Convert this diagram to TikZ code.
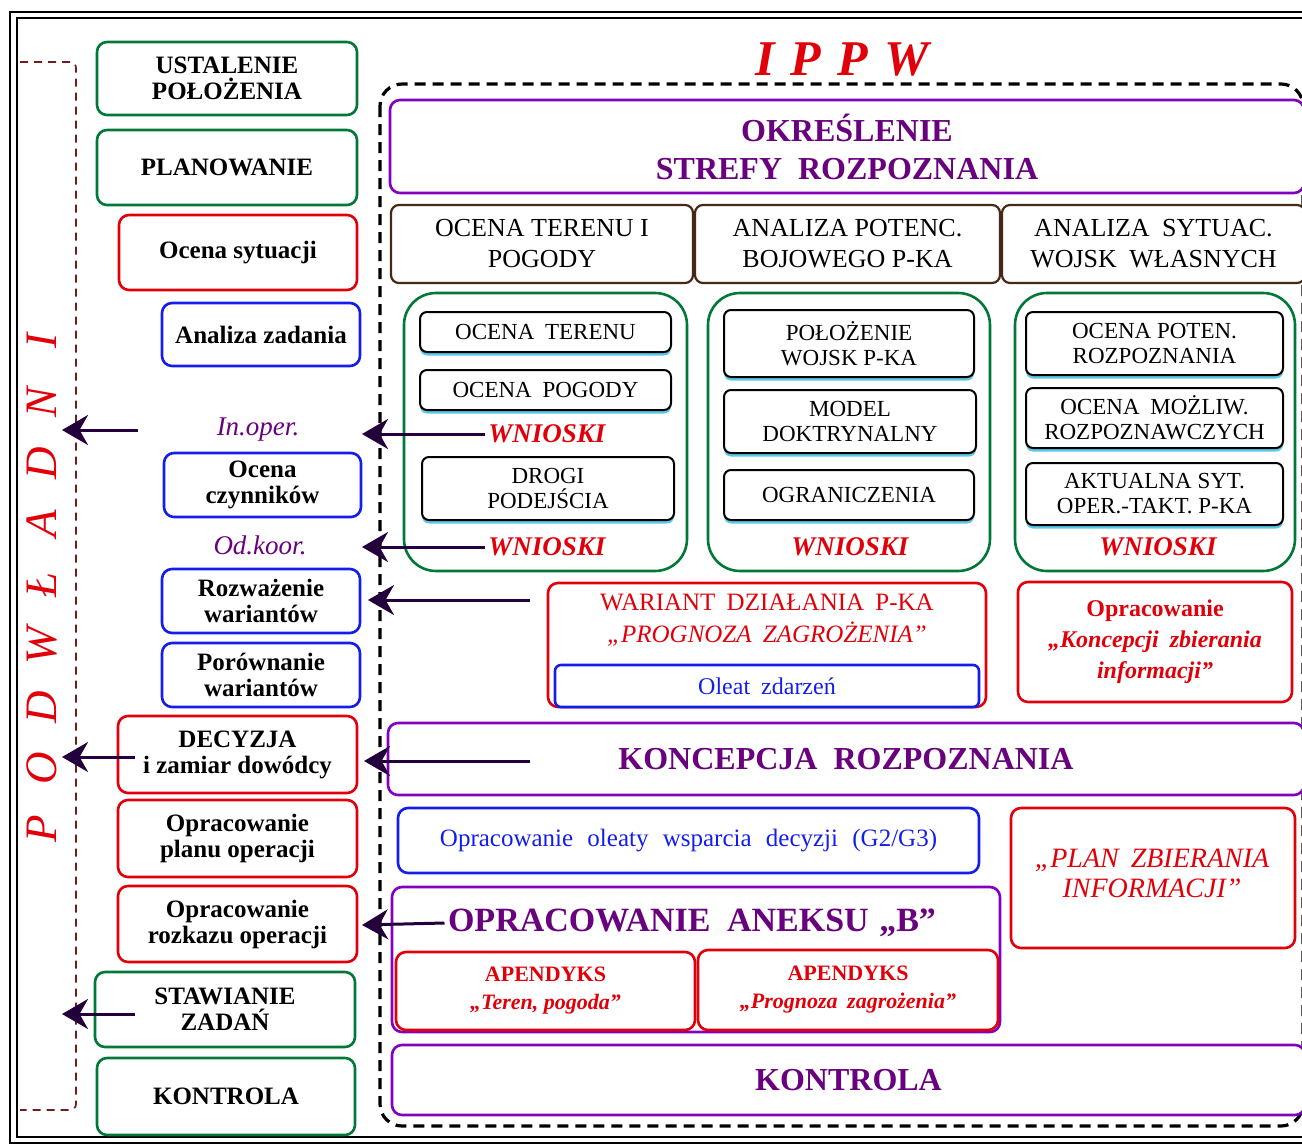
\documentclass[tikz,border=0pt]{standalone}
\usepackage{fontspec}
\setmainfont{Liberation Serif}
\usetikzlibrary{arrows.meta,shadows}
\definecolor{cgreen}{RGB}{0,120,55}
\definecolor{cred}{RGB}{225,0,10}
\definecolor{cblue}{RGB}{20,30,235}
\definecolor{cpurp}{RGB}{130,0,190}
\definecolor{ctxtp}{RGB}{105,0,125}
\definecolor{cbrown}{RGB}{70,40,20}
\definecolor{carrow}{RGB}{35,0,60}
\definecolor{cdash}{RGB}{110,30,30}
\definecolor{ccyan}{RGB}{90,200,230}
\begin{document}
\begin{tikzpicture}[x=1pt,y=-1pt,
  box/.style={draw, line width=2.6pt, rounded corners=10pt, fill=white, inner sep=0pt, align=center},
  gbox/.style={box, draw=cgreen},
  rbox/.style={box, draw=cred},
  bbox/.style={box, draw=cblue},
  pbox/.style={box, draw=cpurp, text=ctxtp},
  hbox/.style={box, draw=cbrown, line width=2.2pt, rounded corners=8pt},
  colbox/.style={box, draw=cgreen, rounded corners=32pt},
  ibox/.style={box, draw=black, line width=2pt, rounded corners=7pt,
    drop shadow={shadow xshift=0pt, shadow yshift=-3.5pt, fill=ccyan, opacity=1}},
  lft/.style={font=\fontsize{25}{26}\selectfont\bfseries},
  hdr/.style={font=\fontsize{26}{31}\selectfont},
  inn/.style={font=\fontsize{23}{25}\selectfont},
  big/.style={font=\fontsize{32}{38}\selectfont\bfseries},
  wn/.style={text=cred, font=\fontsize{27}{30}\selectfont\bfseries\itshape},
  note/.style={text=ctxtp, font=\fontsize{27}{30}\selectfont\itshape},
  arr/.style={draw=carrow, line width=3pt, -{Stealth[length=26pt,width=30pt]}}
]
\useasboundingbox (0,0) rectangle (1302,1146);
% outer frame
\draw[line width=2.4pt] (1340,12) -- (10,12) -- (10,1143) -- (1340,1143);
\draw[line width=1.4pt] (1340,18) -- (17,18) -- (17,1137) -- (1340,1137);
% PODWLADNI dashed frame
\draw[cdash, line width=1.7pt, dash pattern=on 8pt off 6pt, rounded corners=6pt] (20,62) -- (76,62) -- (76,1110) -- (20,1110);
\node[rotate=90, text=cred, font=\fontsize{45}{45}\selectfont\itshape, inner sep=0pt] (podw) at (42,585)
  {\makebox[61pt]{P}\makebox[61pt]{O}\makebox[61pt]{D}\makebox[61pt]{W}\makebox[61pt]{Ł}\makebox[61pt]{A}\makebox[61pt]{D}\makebox[61pt]{N}\makebox[61pt]{I}};
% big dashed frame
\draw[line width=3.2pt, dash pattern=on 11pt off 7pt, rounded corners=22pt] (380,84) rectangle (1303,1126);
\node[text=cred, font=\fontsize{50}{50}\selectfont\bfseries\itshape] (ippw) at (842,60) {I\hspace{16pt}P\hspace{16pt}P\hspace{16pt}W};

% left column
\node[gbox, lft, minimum width=260pt, minimum height=73pt] (ustal) at (227,78.5) {USTALENIE\\POŁOŻENIA};
\node[gbox, lft, minimum width=260pt, minimum height=75pt] (plan) at (227,167.5) {PLANOWANIE};
\node[rbox, lft, minimum width=238pt, minimum height=75pt] (ocsyt) at (238,252.5) {Ocena sytuacji};
\node[bbox, lft, minimum width=198pt, minimum height=63pt] (anzad) at (261,334.5) {Analiza zadania};
\node[note] (inoper) at (258,430) {In.oper.};
\node[bbox, lft, minimum width=197pt, minimum height=64pt] (occz) at (262.5,485) {Ocena\\czynników};
\node[note] (odkoor) at (260,545) {Od.koor.};
\node[bbox, lft, minimum width=198pt, minimum height=64pt] (rozw) at (261,601) {Rozważenie\\wariantów};
\node[bbox, lft, minimum width=198pt, minimum height=64pt] (porow) at (261,675) {Porównanie\\wariantów};
\node[rbox, lft, minimum width=239pt, minimum height=77pt] (decyz) at (237.5,754.5) {DECYZJA\\i zamiar dowódcy};
\node[rbox, lft, minimum width=239pt, minimum height=77pt] (plop) at (237.5,838.5) {Opracowanie\\planu operacji};
\node[rbox, lft, minimum width=239pt, minimum height=76pt] (rozk) at (237.5,924) {Opracowanie\\rozkazu operacji};
\node[gbox, lft, minimum width=260pt, minimum height=75pt] (staw) at (225,1009.5) {STAWIANIE\\ZADAŃ};
\node[gbox, lft, minimum width=258pt, minimum height=77pt] (kontl) at (226,1096.5) {KONTROLA};

% right part
\node[pbox, big, minimum width=914pt, minimum height=93pt] (okr) at (847,146.5) {OKREŚLENIE\\STREFY\hspace{8pt} ROZPOZNANIA};
\node[hbox, hdr, minimum width=302pt, minimum height=78pt] (h1) at (542,244) {OCENA TERENU I\\POGODY};
\node[hbox, hdr, minimum width=305pt, minimum height=78pt] (h2) at (847.5,244) {ANALIZA POTENC.\\BOJOWEGO P-KA};
\node[hbox, hdr, minimum width=303pt, minimum height=78pt] (h3) at (1153.5,244) {ANALIZA\hspace{6pt} SYTUAC.\\WOJSK\hspace{6pt} WŁASNYCH};

\node[colbox, minimum width=283pt, minimum height=278pt] (c1) at (545.5,432) {};
\node[colbox, minimum width=282pt, minimum height=278pt] (c2) at (849,432) {};
\node[colbox, minimum width=280pt, minimum height=278pt] (c3) at (1155,432) {};

\node[ibox, inn, minimum width=251pt, minimum height=40pt] (i11) at (545.5,332) {OCENA\hspace{5pt} TERENU};
\node[ibox, inn, minimum width=251pt, minimum height=40pt] (i12) at (545.5,390) {OCENA\hspace{5pt} POGODY};
\node[wn] (wn1) at (547,434) {WNIOSKI};
\node[ibox, inn, minimum width=252pt, minimum height=63pt] (i13) at (548,488.5) {DROGI\\PODEJŚCIA};
\node[wn] (wn2) at (547,547) {WNIOSKI};

\node[ibox, inn, minimum width=250pt, minimum height=67pt] (i21) at (849,343.5) {POŁOŻENIE\\WOJSK P-KA};
\node[ibox, inn, minimum width=252pt, minimum height=63pt] (i22) at (850,421.5) {MODEL\\DOKTRYNALNY};
\node[ibox, inn, minimum width=250pt, minimum height=50pt] (i23) at (849,495) {OGRANICZENIA};
\node[wn] (wn3) at (850,547) {WNIOSKI};

\node[ibox, inn, minimum width=257pt, minimum height=63pt] (i31) at (1154.5,343.5) {OCENA POTEN.\\ROZPOZNANIA};
\node[ibox, inn, minimum width=257pt, minimum height=60pt] (i32) at (1154.5,418) {OCENA\hspace{5pt} MOŻLIW.\\ROZPOZNAWCZYCH};
\node[ibox, inn, minimum width=257pt, minimum height=62pt] (i33) at (1154.5,494) {AKTUALNA SYT.\\OPER.-TAKT. P-KA};
\node[wn] (wn4) at (1158,547) {WNIOSKI};

\node[rbox, minimum width=438pt, minimum height=124pt] (warbox) at (767,645) {};
\node[text=cred, align=center, font=\fontsize{25}{32}\selectfont] (wartxt) at (767,620) {WARIANT\hspace{5pt} DZIAŁANIA\hspace{5pt} P-KA\\{\itshape „PROGNOZA\hspace{5pt} ZAGROŻENIA”}};
\node[bbox, text=cblue, font=\fontsize{24}{26}\selectfont, minimum width=424pt, minimum height=42pt, rounded corners=6pt] (oleat) at (767,686) {Oleat\hspace{5pt} zdarzeń};
\node[rbox, text=cred, font=\fontsize{24}{31}\selectfont\bfseries, minimum width=274pt, minimum height=120pt] (konc) at (1155,642) {Opracowanie\\{\itshape „Koncepcji\hspace{5pt} zbierania}\\{\itshape informacji”}};

\node[pbox, big, minimum width=916pt, minimum height=72pt] (koncr) at (846,759) {KONCEPCJA\hspace{8pt} ROZPOZNANIA};
\node[bbox, text=cblue, font=\fontsize{25}{28}\selectfont, minimum width=581pt, minimum height=65pt] (oleaty) at (688.5,840.5) {Opracowanie\hspace{8pt} oleaty\hspace{8pt} wsparcia\hspace{8pt} decyzji\hspace{8pt} (G2/G3)};
\node[rbox, minimum width=284pt, minimum height=140pt] (planzb) at (1153,878) {};
\node[text=cred, align=center, font=\fontsize{28}{30}\selectfont\itshape] (planzbt) at (1152,873) {„PLAN\hspace{5pt} ZBIERANIA\\INFORMACJI”};
\node[pbox, minimum width=608pt, minimum height=145pt] (anbox) at (696,959.5) {};
\node[text=ctxtp, font=\fontsize{34}{36}\selectfont\bfseries] (aneks) at (692,923) {OPRACOWANIE\hspace{8pt} ANEKSU\hspace{2pt} „B”};
\node[rbox, text=cred, font=\fontsize{22}{28}\selectfont\bfseries, minimum width=299pt, minimum height=78pt] (ap1) at (545.5,991) {APENDYKS\\{\itshape „Teren, pogoda”}};
\node[rbox, text=cred, font=\fontsize{22}{28}\selectfont\bfseries, minimum width=300pt, minimum height=80pt] (ap2) at (848,990) {APENDYKS\\{\itshape „Prognoza\hspace{4pt} zagrożenia”}};
\node[pbox, big, minimum width=913pt, minimum height=70pt] (kontr) at (848.5,1080) {KONTROLA};

% arrows
\coordinate (la1) at (138,430); \coordinate (lt1) at (62,430);
\coordinate (la2) at (135,757); \coordinate (lt2) at (62,757);
\coordinate (la3) at (135,1014); \coordinate (lt3) at (62,1014);
\draw[arr] (la1) -- (lt1);
\draw[arr] (la2) -- (lt2);
\draw[arr] (la3) -- (lt3);
\coordinate (rt1) at (362,434);
\coordinate (rt2) at (362,547);
\coordinate (rs3) at (530,600); \coordinate (rt3) at (368,600);
\coordinate (rs4) at (530,761); \coordinate (rt4) at (364,761);
\coordinate (rt5) at (362,925);
\draw[arr] (wn1.west) -- (rt1);
\draw[arr] (wn2.west) -- (rt2);
\draw[arr] (rs3) -- (rt3);
\draw[arr] (rs4) -- (rt4);
\draw[arr] (aneks.west) -- (rt5);
\end{tikzpicture}
\end{document}
